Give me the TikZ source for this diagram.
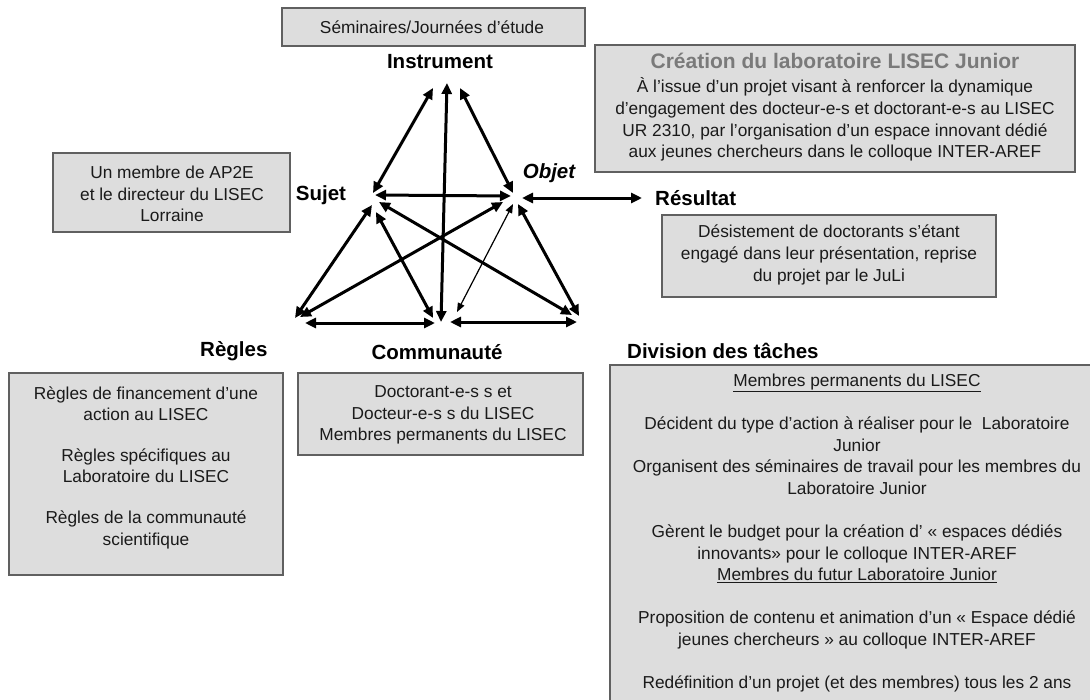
\documentclass[tikz,border=0pt]{standalone}
\usepackage{fontspec}
\setmainfont{Liberation Sans}
\usetikzlibrary{arrows.meta}
\definecolor{boxfill}{HTML}{DDDDDD}
\definecolor{boxline}{HTML}{606060}
\definecolor{titlegray}{HTML}{7A7A7A}
\definecolor{ink}{HTML}{1A1A1A}

\begin{document}
\begin{tikzpicture}[x=1pt,y=-1pt,
  panel/.style={draw=boxline, fill=boxfill, line width=1.4pt},
  body/.style={font=\fontsize{17.3}{21.6}\selectfont, align=center, inner sep=0pt, text=ink},
  lbl/.style={font=\fontsize{20.5}{24}\selectfont\bfseries, inner sep=0pt},
  link/.style={line width=3pt, {Triangle[length=11pt,width=10pt]}-{Triangle[length=11pt,width=10pt]}},
  thinlink/.style={line width=1.2pt, {Triangle[length=9pt,width=7pt]}-{Triangle[length=9pt,width=7pt]}}
]
\clip (0,0) rectangle (1090,699);
\fill[white] (0,0) rectangle (1090,699);

% ---- grey panels ----
\draw[panel] (282,8) rectangle (585,46);
\node[body] (semtxt) at (432,27) {Séminaires/Journées d’étude};

\draw[panel] (595,45) rectangle (1075,172);
\node[body, font=\fontsize{21}{24}\selectfont\bfseries, text=titlegray] (cretitle) at (835,61) {Création du laboratoire LISEC Junior};
\node[body] (cretxt) at (835,119.5) {À l’issue d’un projet visant à renforcer la dynamique\\
d’engagement des docteur-e-s et doctorant-e-s au LISEC\\
UR 2310, par l’organisation d’un espace innovant dédié\\
aux jeunes chercheurs dans le colloque INTER-AREF};

\draw[panel] (53,153) rectangle (290,232);
\node[body] (sujtxt) at (172,194) {Un membre de AP2E\\ et le directeur du LISEC\\ Lorraine};

\draw[panel] (662,215) rectangle (996,297);
\node[body] (restxt) at (829,255) {Désistement de doctorants s’étant\\ engagé dans leur présentation, reprise\\ du projet par le JuLi};

\draw[panel] (9,373) rectangle (283,575);
\node[body] (regtxt) at (146,467.5) {Règles de financement d’une\\ action au LISEC\\[19pt]
Règles spécifiques au\\ Laboratoire du LISEC\\[19pt]
Règles de la communauté\\ scientifique};

\draw[panel] (298,373) rectangle (583,455);
\node[body] (comtxt) at (443,415) {Doctorant-e-s s et\\ Docteur-e-s s du LISEC\\ Membres permanents du LISEC};

\draw[panel] (610,365) rectangle (1110,720);
\node[body] (divtxt) at (857,533) {\underline{Membres permanents du LISEC}\\[21.6pt]
Décident du type d’action à réaliser pour le \ Laboratoire\\ Junior\\
Organisent des séminaires de travail pour les membres du\\ Laboratoire Junior\\[21.6pt]
Gèrent le budget pour la création d’ « espaces dédiés\\ innovants» pour le colloque INTER-AREF\\
\underline{Membres du futur Laboratoire Junior}\\[21.6pt]
Proposition de contenu et animation d’un « Espace dédié\\ jeunes chercheurs » au colloque INTER-AREF\\[21.6pt]
Redéfinition d’un projet (et des membres) tous les 2 ans};

% ---- pole labels ----
\node[lbl] (instr) at (440,62) {Instrument};
\node[lbl] (sujet) at (321,195) {Sujet};
\node[lbl, font=\fontsize{20.5}{24}\selectfont\bfseries\itshape] (objet) at (549,173) {Objet};
\node[lbl, anchor=west] (resultat) at (655,198) {Résultat};
\node[lbl, anchor=west] (regles) at (200,351) {Règles};
\node[lbl] (communaute) at (437,352) {Communauté};
\node[lbl, anchor=west] (division) at (627,351) {Division des tâches};

% ---- triangle vertices ----
\coordinate (I) at (447,84);
\coordinate (S) at (374,196);
\coordinate (O) at (515,198);
\coordinate (R) at (296,320);
\coordinate (C) at (441,322);
\coordinate (D) at (577,319);

% ---- mediations ----
\draw[link] ([shift={(-14,4)}]I) -- ([shift={(-1,-3)}]S);
\draw[link] ([shift={(0,-1)}]I) -- (C);
\draw[link] ([shift={(13,4)}]I) -- ([shift={(-2,-5)}]O);
\draw[link] ([shift={(1,-1)}]S) -- ([shift={(-4,-2)}]O);
\draw[link] ([shift={(-2,9)}]S) -- ([shift={(-1,-2)}]R);
\draw[link] ([shift={(2,16)}]S) -- ([shift={(-8,-4)}]C);
\draw[link] ([shift={(5,6)}]S) -- ([shift={(-5,-4)}]D);
\draw[link] ([shift={(-12,4)}]O) -- ([shift={(4,-3)}]R);
\draw[thinlink] ([shift={(-2,6)}]O) -- ([shift={(16,-10)}]C);
\draw[link] ([shift={(3,6)}]O) -- ([shift={(2,-3)}]D);
\draw[link] ([shift={(9,3)}]R) -- ([shift={(-6,1)}]C);
\draw[link] ([shift={(9,0)}]C) -- ([shift={(0,3)}]D);
\draw[link] ([shift={(7,0)}]O) -- ([xshift=-13pt]resultat.west);

\end{tikzpicture}
\end{document}
